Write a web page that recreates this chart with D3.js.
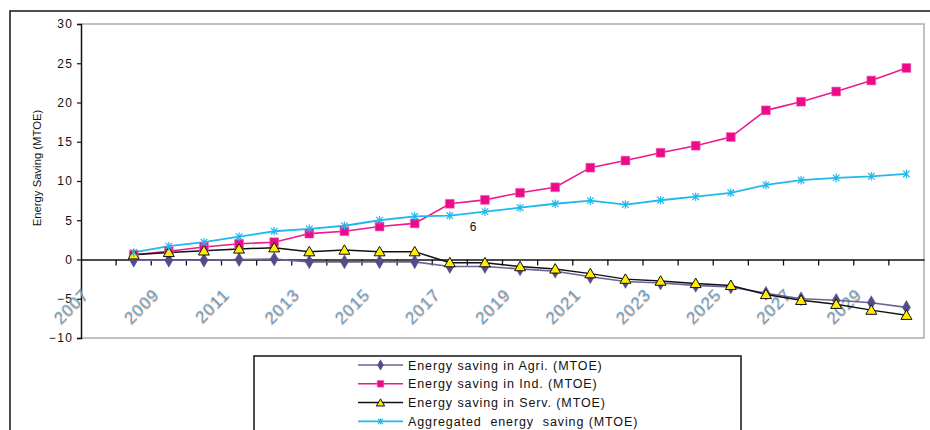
<!DOCTYPE html>
<html><head><meta charset="utf-8">
<script src="https://cdn.jsdelivr.net/npm/d3@7"></script>
<style>
body{margin:0;background:#fff;}
svg{display:block;}
text{font-family:"Liberation Sans",Arial,sans-serif;}
</style></head>
<body>
<svg id="c" width="930" height="430">
<defs>
<filter id="fringe" x="-20%" y="-20%" width="140%" height="140%">
<feDropShadow dx="-0.9" dy="0.5" stdDeviation="0" flood-color="#f0a050" flood-opacity="0.9"/>
</filter>
</defs>
</svg>
<script>
const years = d3.range(2007, 2031);
const dataYears = d3.range(2008, 2031);
const agri = [-0.1,-0.1,-0.1,0,0.05,-0.3,-0.3,-0.3,-0.3,-0.9,-0.9,-1.2,-1.5,-2.2,-2.8,-3.0,-3.3,-3.5,-4.3,-5.0,-5.2,-5.5,-6.1];
const ind = [0.6,1.05,1.6,2.0,2.2,3.3,3.6,4.2,4.6,7.1,7.6,8.5,9.2,11.7,12.6,13.6,14.5,15.6,19.0,20.1,21.4,22.8,24.4];
const serv = [0.6,0.9,1.1,1.35,1.5,1.0,1.2,1.0,1.0,-0.4,-0.4,-0.9,-1.2,-1.8,-2.5,-2.75,-3.05,-3.3,-4.45,-5.2,-5.7,-6.45,-7.1];
const agg = [0.9,1.7,2.2,2.9,3.6,3.9,4.3,5.0,5.5,5.6,6.1,6.6,7.1,7.5,7.0,7.55,8.0,8.5,9.5,10.1,10.4,10.6,10.9];
const yTicks = [-10,-5,0,5,10,15,20,25,30];
const xLabelYears = d3.range(2007, 2031, 2);
const seriesNames = ["Energy saving in Agri. (MTOE)","Energy saving in Ind. (MTOE)","Energy saving in Serv. (MTOE)","Aggregated  energy  saving (MTOE)"];
const yTitle = "Energy Saving (MTOE)";
const note = {year: 2018, offset: 0.16, value: 4.1, text: "6"};

const svg = d3.select("#c");
const L = 81, R = 924, T = 24, B = 338;
const x = d3.scaleBand().domain(years).range([L, R]);
const y = d3.scaleLinear().domain([-10, 30]).range([B, T]);
const cx = yr => x(yr) + x.bandwidth()/2;

// outer frame
svg.append("rect").attr("x",10).attr("y",11).attr("width",940).attr("height",440)
  .attr("fill","none").attr("stroke","#222").attr("stroke-width",1.6);

// plot border (gray)
svg.append("path").attr("d",`M${L},${T}H${R}V${B}H${L}`).attr("fill","none")
  .attr("stroke","#b0acac").attr("stroke-width",1.5);

// y axis
const yAxis = svg.append("g").attr("transform",`translate(${L},0)`)
  .call(d3.axisLeft(y).tickValues(yTicks).tickSize(4).tickPadding(5));
yAxis.select(".domain").attr("stroke","#111").attr("stroke-width",1.5);
yAxis.selectAll(".tick line").attr("stroke","#111").attr("stroke-width",1.2);
yAxis.selectAll(".tick text").attr("font-family","Liberation Sans, Arial, sans-serif")
  .attr("font-size",12).attr("fill","#111").style("letter-spacing","1.4px").attr("dx","1.4px");

// y title
svg.append("text").attr("transform",`translate(41,${168}) rotate(-90)`)
  .attr("text-anchor","middle").attr("font-size",11.3).attr("fill","#111").text(yTitle);

// x axis at zero
const xAxis = svg.append("g").attr("transform",`translate(0,${y(0)})`)
  .call(d3.axisBottom(x).tickValues([]).tickSize(0));
xAxis.select(".domain").attr("stroke","#111").attr("stroke-width",1.5);
svg.append("g").selectAll("line").data(years.slice(1)).join("line")
  .attr("x1",d=>x(d)).attr("x2",d=>x(d)).attr("y1",y(0)).attr("y2",y(0)+6)
  .attr("stroke","#111").attr("stroke-width",1.3);

// x labels
svg.append("g").selectAll("text").data(xLabelYears).join("text")
  .attr("transform",d=>`translate(${cx(d)-8},${y(-4.6)}) rotate(-45)`)
  .attr("text-anchor","end").attr("font-size",16.5).style("letter-spacing","1.2px")
  .attr("fill","#3b9ad0").attr("filter","url(#fringe)").text(d=>d);

// lines
const line = vals => d3.line().x((d,i)=>cx(dataYears[i])).y(d=>y(d))(vals);
const starPath = s => `M${-s},${-s}L${s},${s}M${-s},${s}L${s},${-s}M0,${-s*1.3}V${s*1.3}`;

const series = [
  {vals: agri, color:"#6a6298", width:1.6},
  {vals: ind, color:"#ec1a8c", width:1.6},
  {vals: serv, color:"#111", width:1.5},
  {vals: agg, color:"#1fb8ee", width:1.8}
];
series.forEach(s=>{
  svg.append("path").attr("d",line(s.vals)).attr("fill","none")
    .attr("stroke",s.color).attr("stroke-width",s.width);
});

function drawMarker(g, idx, px, py, scale){
  scale = scale || 1;
  if(idx===0){
    g.append("path").attr("d",d3.symbol(d3.symbolDiamond, 55*scale*scale)())
      .attr("transform",`translate(${px},${py})`).attr("fill","#544c88").attr("stroke","#544c88").attr("stroke-width",0.5);
  } else if(idx===1){
    g.append("path").attr("d",d3.symbol(d3.symbolSquare, 78*scale*scale)())
      .attr("transform",`translate(${px},${py})`).attr("fill","#ec0a8a").attr("stroke","#f060b0").attr("stroke-width",0.6);
  } else if(idx===2){
    g.append("path").attr("d",d3.symbol(d3.symbolTriangle, 52*scale*scale)())
      .attr("transform",`translate(${px},${py+1})`).attr("fill","#ffee00").attr("stroke","#111").attr("stroke-width",1);
  } else {
    g.append("path").attr("d",starPath(3.3*scale))
      .attr("transform",`translate(${px},${py})`).attr("fill","none").attr("stroke","#1fb8ee").attr("stroke-width",1.2);
  }
}
const mg = svg.append("g");
series.forEach((s,si)=>{
  s.vals.forEach((v,i)=>drawMarker(mg, si, cx(dataYears[i]), y(v)));
});

// stray annotation
svg.append("text").attr("x", x(note.year) + note.offset*x.bandwidth()).attr("y", y(note.value)+4)
  .attr("text-anchor","middle").attr("font-size",12).attr("fill","#111").text(note.text);

// legend
const lg = svg.append("g");
lg.append("rect").attr("x",254).attr("y",356).attr("width",487).attr("height",120)
  .attr("fill","#fff").attr("stroke","#222").attr("stroke-width",1.6);
seriesNames.forEach((n,i)=>{
  const ly = 365 + i*18.8;
  lg.append("line").attr("x1",358).attr("x2",403).attr("y1",ly).attr("y2",ly)
    .attr("stroke",series[i].color).attr("stroke-width",series[i].width);
  drawMarker(lg, i, 380.5, ly, 0.75);
  lg.append("text").attr("x",408).attr("y",ly+4.5).attr("font-size",12.5)
    .style("letter-spacing","0.9px").style("white-space","pre").attr("fill","#111").text(n);
});
</script>
</body></html>
